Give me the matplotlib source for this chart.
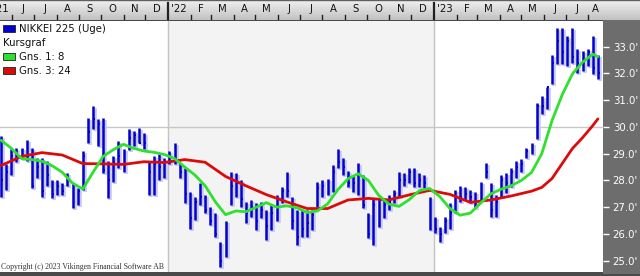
import matplotlib
matplotlib.use("Agg")
import matplotlib.pyplot as plt
import matplotlib.dates as mdates
import matplotlib.transforms as mtransforms
from matplotlib.colors import LinearSegmentedColormap
from matplotlib.patches import Rectangle
import numpy as np
import pandas as pd

# weekly bars, NIKKEI 225 (values in thousands)
WEEKS = pd.date_range("2021-05-17", periods=118, freq="7D")
HIGH = [29.67, 28.63, 29.19, 29.20, 29.20, 29.50, 29.20, 28.85, 28.85, 28.74,
        28.00, 28.00, 27.90, 28.26, 27.90, 27.70, 29.10, 30.34, 30.80, 30.30,
        30.34, 28.74, 28.93, 29.49, 29.19, 29.93, 29.86, 29.97, 29.79, 28.74,
        28.93, 28.97, 28.85, 29.10, 29.40, 28.67, 28.48, 27.55, 27.37, 27.90,
        27.44, 27.00, 26.78, 25.70, 26.50, 28.30, 28.26, 28.00, 27.18, 27.26,
        27.15, 27.18, 26.89, 27.07, 27.44, 27.74, 28.30, 27.37, 26.89, 26.89,
        26.90, 26.89, 27.93, 28.00, 28.05, 28.56, 29.19, 28.85, 28.37, 28.19,
        28.67, 28.19, 26.80, 27.33, 27.33, 27.33, 27.44, 27.63, 28.30, 28.26,
        28.48, 28.45, 28.26, 28.19, 27.37, 26.63, 26.25, 26.63, 27.15, 27.63,
        27.80, 27.74, 27.63, 27.55, 27.93, 28.67, 27.89, 27.44, 28.19, 28.26,
        28.48, 28.74, 28.82, 29.23, 29.41, 30.90, 31.16, 31.50, 32.70, 33.69,
        33.69, 33.39, 33.69, 32.90, 32.85, 32.90, 33.39, 32.70]
LOW = [27.37, 27.63, 28.19, 28.70, 28.80, 28.74, 27.70, 28.10, 27.37, 27.80,
       27.33, 27.44, 27.44, 27.80, 26.96, 27.07, 27.63, 29.40, 29.93, 29.30,
       28.26, 27.33, 27.93, 28.45, 28.30, 29.12, 29.30, 29.40, 29.19, 27.44,
       27.44, 28.00, 28.10, 28.60, 28.63, 28.11, 27.15, 26.20, 26.51, 27.07,
       26.78, 26.33, 25.88, 24.77, 25.14, 27.07, 27.37, 27.00, 26.40, 26.63,
       26.14, 26.60, 25.77, 26.14, 26.50, 27.15, 27.37, 26.20, 25.60, 25.88,
       25.88, 26.14, 27.00, 27.37, 27.44, 27.55, 28.48, 28.19, 27.74, 27.55,
       27.44, 26.96, 25.85, 25.60, 26.25, 26.59, 26.89, 27.15, 27.37, 27.81,
       27.89, 27.74, 27.74, 27.70, 26.14, 26.03, 25.70, 26.03, 26.20, 26.78,
       27.18, 27.26, 27.15, 26.96, 27.26, 28.11, 26.63, 26.63, 27.37, 27.52,
       27.74, 28.11, 28.30, 28.85, 29.00, 29.56, 30.49, 30.67, 31.60, 32.35,
       32.35, 32.27, 32.40, 32.00, 32.10, 32.27, 31.98, 31.80]
CLOSE = [28.0, 28.3, 28.9, 28.8, 29.1, 28.9, 27.8, 28.5, 27.6, 28.2,
         27.5, 27.8, 27.6, 28.0, 27.2, 27.6, 28.9, 29.8, 30.3, 30.1,
         28.4, 28.0, 28.7, 28.9, 28.6, 29.6, 29.7, 29.4, 29.4, 28.3,
         28.6, 28.5, 28.7, 28.9, 28.8, 28.3, 27.5, 26.6, 27.2, 27.4,
         26.9, 26.5, 26.0, 25.0, 26.0, 27.8, 27.9, 27.3, 26.8, 27.0,
         26.5, 26.9, 26.3, 26.8, 27.0, 27.6, 27.6, 26.5, 25.9, 26.2,
         26.4, 26.7, 27.7, 27.8, 27.9, 28.3, 28.7, 28.5, 27.9, 27.9,
         28.2, 27.1, 26.0, 27.1, 26.4, 27.1, 27.2, 27.5, 28.0, 28.0,
         28.3, 27.9, 28.0, 27.9, 26.2, 26.2, 26.0, 26.5, 26.8, 27.4,
         27.4, 27.5, 27.4, 27.2, 27.8, 28.3, 26.9, 27.2, 28.0, 27.9,
         28.3, 28.5, 28.6, 29.1, 29.2, 30.8, 30.8, 31.5, 32.4, 33.2,
         32.8, 33.2, 32.6, 32.4, 32.6, 32.8, 32.2, 32.0]

# moving averages (week index -> level)
MA8_WEEK = [0, 2, 4, 6, 8, 10, 12, 14, 16, 18, 20, 22, 24, 26, 28, 30, 32, 34,
            36, 38, 40, 42, 44, 46, 48, 50, 52, 54, 56, 58, 60, 62, 64, 66, 68,
            70, 72, 74, 76, 78, 80, 82, 84, 86, 88, 90, 92, 94, 96, 98, 100,
            102, 104, 106, 108, 110, 112, 114, 116, 117]
MA8 = [29.50, 29.20, 28.82, 28.78, 28.72, 28.55, 28.30, 27.90, 27.68, 28.30,
       28.90, 29.15, 29.35, 29.20, 29.10, 29.05, 28.97, 28.82, 28.50, 28.20,
       27.80, 27.20, 26.72, 26.86, 26.83, 27.00, 27.17, 27.00, 27.05, 26.98,
       26.80, 26.86, 27.12, 27.65, 28.06, 28.25, 28.00, 27.45, 27.12, 27.03,
       27.28, 27.62, 27.70, 27.40, 26.95, 26.70, 26.78, 27.15, 27.50, 27.67,
       27.80, 28.00, 28.30, 29.00, 30.23, 31.20, 31.98, 32.42, 32.72, 32.62]
MA24_WEEK = [0, 4, 8, 12, 16, 20, 24, 28, 32, 36, 40, 44, 48, 52, 56, 60, 64,
             68, 72, 76, 80, 84, 88, 92, 96, 100, 104, 106, 108, 110, 112, 114,
             116, 117]
MA24 = [28.56, 28.90, 29.04, 28.95, 28.63, 28.62, 28.60, 28.70, 28.67, 28.78,
        28.68, 28.15, 27.80, 27.47, 27.20, 26.95, 26.95, 27.27, 27.33, 27.27,
        27.46, 27.63, 27.48, 27.18, 27.27, 27.42, 27.60, 27.74, 28.07, 28.63,
        29.19, 29.60, 30.05, 30.30]

Y_TICKS = [25, 26, 27, 28, 29, 30, 31, 32, 33]
MONTH_LETTERS = ["J", "F", "M", "A", "M", "J", "J", "A", "S", "O", "N", "D"]

W, H = 640, 276
BAR_BLUE = "#0000d0"
GUTTER = "#6d6d6d"


def box(x0, y0, x1, y1):
    return [x0 / W, 1 - y1 / H, (x1 - x0) / W, (y1 - y0) / H]


fig = plt.figure(figsize=(W / 100, H / 100), dpi=100, facecolor="#4a4a4a")

# date scale: Jan 1 2022 sits at pixel 168, 5.1 px per week
px_day = 5.1 / 7
d22 = mdates.date2num(pd.Timestamp("2022-01-01"))
x_left = d22 - 168 / px_day
x_right = d22 + (603 - 168) / px_day
x_far = d22 + (640 - 168) / px_day

# right-hand value gutter
gut = fig.add_axes(box(603, 20, 640, 274), facecolor=GUTTER)
gut.set_axis_off()
gut.add_patch(Rectangle((0, 0), 1, 1, transform=gut.transAxes, color=GUTTER))

# top month band
band = fig.add_axes(box(0, 0, 640, 20))
grad = LinearSegmentedColormap.from_list("band", ["#f0f0f0", "#c2c2c2"])
band.imshow(np.linspace(0, 1, 40).reshape(-1, 1), cmap=grad, aspect="auto",
            extent=[x_left, x_far, 0, 1], origin="upper")
band.set_xlim(x_left, x_far)
band.set_ylim(0, 1)
band.set_axis_off()
band.axhline(0.98, color="#606060", lw=1)

months = pd.date_range("2021-05-01", "2023-09-01", freq="MS")
for m0, m1 in zip(months[:-1], months[1:]):
    a = mdates.date2num(m0)
    b = min(mdates.date2num(m1), x_right)
    if m0.month == 1:
        band.plot([a, a], [0.0, 0.85], color="#202020", lw=1.6)
        lab = f"'{m0.year % 100:02d}"
    else:
        if a > x_left:
            band.plot([a, a], [0.0, 0.25], color="#202020", lw=1)
        lab = MONTH_LETTERS[m0.month - 1]
    if m0 == months[0]:
        lab = "'21"
    band.text((a + b) / 2, 0.55, lab, ha="center", va="center", fontsize=7.3,
              color="#111111", clip_on=True)

# main price panel
ax = fig.add_axes(box(0, 21, 603, 272))
ax.set_xlim(x_left, x_right)
ax.set_ylim(24.578, 33.96)
ax.axvspan(d22, mdates.date2num(pd.Timestamp("2023-01-01")), color="#f3f3f3", zorder=0)
for yr in ["2022-01-01", "2023-01-01"]:
    ax.axvline(pd.Timestamp(yr), color="#c4c4c4", lw=1, zorder=0.5)
ax.axhline(30, color="#c8c8c8", lw=1, zorder=0.5)

shadow = mtransforms.offset_copy(ax.transData, fig=fig, x=2, y=-2, units="dots")
tick_end = WEEKS + pd.Timedelta(days=2.6)
ax.vlines(WEEKS, LOW, HIGH, colors="#c8c8f0", lw=2.6, transform=shadow, zorder=1)
ax.hlines(CLOSE, WEEKS, tick_end, colors="#c8c8f0", lw=1.4, transform=shadow, zorder=1)
ax.vlines(WEEKS, LOW, HIGH, colors=BAR_BLUE, lw=1.8, zorder=2)
ax.hlines(CLOSE, WEEKS, tick_end, colors=BAR_BLUE, lw=1.4, zorder=2)

ax.plot(WEEKS[MA24_WEEK], MA24, color="#dd0a0a", lw=2.0, zorder=3,
        solid_capstyle="round", solid_joinstyle="round")
ax.plot(WEEKS[MA8_WEEK], MA8, color="#2fe02f", lw=2.0, zorder=4,
        solid_capstyle="round", solid_joinstyle="round")

for s in ax.spines.values():
    s.set_visible(False)
ax.set_xticks([])
ax.yaxis.tick_right()
ax.set_yticks(Y_TICKS)
ax.set_yticklabels([f"{v:.1f}'" for v in Y_TICKS])
ax.tick_params(axis="y", colors="white", labelcolor="white", length=4, width=1,
               pad=3, labelsize=7.3, direction="out")

# legend, top left
legend = [(BAR_BLUE, "NIKKEI 225 (Uge)"), (None, "Kursgraf"),
          ("#2fe02f", "Gns. 1: 8"), ("#dd0a0a", "Gns. 3: 24")]
for k, (col, lab) in enumerate(legend):
    yc = 28.5 + 14 * k
    if col is not None:
        fig.patches.append(Rectangle((3 / W, 1 - (yc + 3.5) / H), 12 / W, 7 / H,
                                     transform=fig.transFigure, facecolor=col,
                                     edgecolor="#202020", lw=0.6, zorder=5))
        tx = 19
    else:
        tx = 3
    fig.text(tx / W, 1 - yc / H, lab, ha="left", va="center", fontsize=7.3,
             color="#111111", zorder=5)

fig.text(1 / W, 1 - 267 / H, "Copyright (c) 2023 Vikingen Financial Software AB",
         family="Liberation Serif", fontsize=5.6, color="#333333",
         ha="left", va="center", zorder=5)

fig.savefig("out.png", dpi=100, facecolor=fig.get_facecolor())
